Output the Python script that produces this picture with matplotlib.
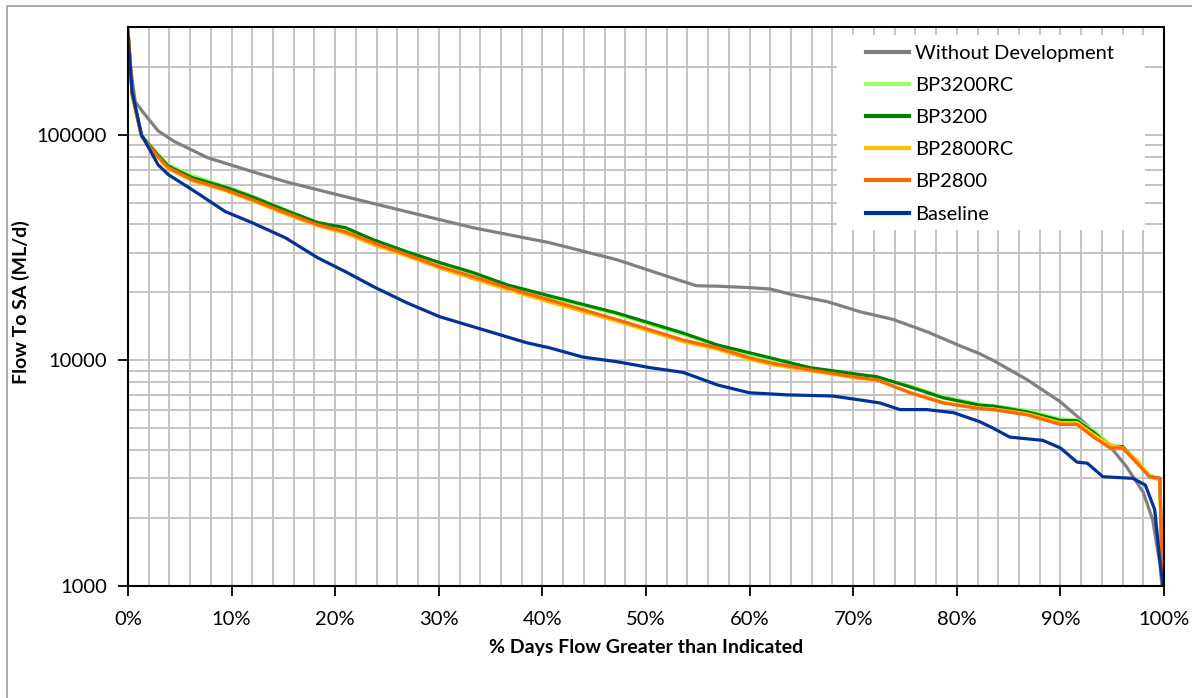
"""
Flow duration curves for flow to SA under each development scenario
"""

import numpy as np
import matplotlib
matplotlib.use('Agg')
import matplotlib.pyplot as plt
from matplotlib.ticker import FixedLocator, MultipleLocator, FuncFormatter
from matplotlib.patches import Rectangle

plt.rcParams['font.family'] = ['Lato', 'DejaVu Sans']

# % of days flow exceeded vs flow (ML/d), read per scenario
wd_pct = [0, 0.3, 0.7, 1.5, 2.9, 4.5, 7.7, 12, 15.2, 18.3, 21, 26.9, 33.3, 40.7, 47.2, 53, 54.9,
          57, 60, 62, 64.2, 67.5, 70.7, 73.8, 77.1, 80.3, 82.2, 83.5, 86.8, 90, 92.2, 94.8, 96.4,
          98, 98.9, 99.6, 99.8]
wd_flow = [283000, 190000, 140000, 125000, 104000, 93100, 79000, 68600, 61900, 57000, 53100, 45600,
           38700, 33200, 27900, 22800, 21400, 21300, 21000, 20700, 19500, 18200, 16400, 15200, 13400,
           11600, 10700, 10000, 8200, 6550, 5350, 4150, 3370, 2600, 1970, 1260, 1000]

sc_pct = [0, 0.4, 1.3, 2.9, 3.9, 6.2, 9.4, 12, 15.2, 18.3, 21, 23.7, 26.9, 30.1, 33.3, 36.6, 40.7,
          47.2, 53.6, 56.9, 60, 62, 65.8, 70.7, 72.3, 75.5, 78.7, 82.2, 83.5, 86.8, 90, 91.6, 93.2,
          94.8, 96, 97.4, 98.6, 99.6, 99.85]
bp3200rc_flow = [290000, 152000, 99500, 82000, 73500, 66000, 59000, 53500, 46500, 40800, 38500, 34000,
                 30200, 27000, 24300, 21500, 19000, 16000, 13000, 11600, 10600, 10100, 9300, 8600, 8400,
                 7700, 6900, 6400, 6300, 6000, 5500, 5450, 4900, 4250, 4100, 3600, 3100, 3000, 1000]
bp3200_flow = [290000, 152000, 99000, 81000, 72500, 64500, 58500, 53000, 46200, 40800, 38700, 34200,
               30300, 27100, 24500, 21600, 19300, 16200, 13200, 11700, 10800, 10260, 9280, 8640, 8460,
               7620, 6820, 6330, 6270, 5910, 5420, 5400, 4800, 4150, 4150, 3550, 3050, 3000, 1000]
bp2800rc_flow = [288000, 150000, 98000, 79000, 70500, 62500, 56500, 51000, 44500, 39500, 36500, 32500,
                 29000, 25600, 23000, 20600, 18100, 14900, 12100, 11200, 10100, 9600, 9000, 8300, 8200,
                 7200, 6500, 6150, 6100, 5800, 5300, 5300, 4700, 4200, 4100, 3600, 3050, 2950, 1000]
bp2800_flow = [290000, 150000, 98000, 80000, 71400, 63200, 57000, 51500, 45100, 39900, 37100, 33200,
               29400, 26000, 23500, 21000, 18500, 15160, 12300, 11360, 10260, 9760, 9080, 8370, 8190,
               7180, 6470, 6110, 6050, 5730, 5200, 5200, 4570, 4090, 4090, 3500, 3050, 3000, 1000]

base_pct = [0, 0.4, 1.3, 2.9, 3.9, 6.2, 9.4, 12, 15.2, 18.3, 21, 23.7, 26.9, 30.1, 33.3, 36.6, 38.5,
            40.7, 43.9, 47.2, 50.4, 53.6, 56.9, 58.1, 60, 62, 63.6, 68, 70.7, 72.6, 74.5, 77.1, 79.7,
            82.2, 83.5, 85.1, 88.3, 90, 91.6, 92.6, 94.1, 97, 98.2, 99.1, 99.6, 99.9]
base_flow = [275000, 155000, 100000, 73600, 66500, 57000, 45600, 40700, 34900, 28500, 24700, 21200,
             18000, 15600, 14100, 12700, 11960, 11360, 10340, 9860, 9280, 8840, 7780, 7540, 7180, 7100,
             7030, 6950, 6670, 6470, 6050, 6050, 5860, 5350, 5010, 4570, 4420, 4090, 3540, 3500, 3050,
             3000, 2800, 2180, 1300, 1000]

series = [
    ('Without Development', wd_pct, wd_flow, '#808080'),
    ('BP3200RC', sc_pct, bp3200rc_flow, '#99FF66'),
    ('BP3200', sc_pct, bp3200_flow, '#008000'),
    ('BP2800RC', sc_pct, bp2800rc_flow, '#FFC000'),
    ('BP2800', sc_pct, bp2800_flow, '#FF6600'),
    ('Baseline', base_pct, base_flow, '#003399'),
]

W, H = 1192, 698
fig = plt.figure(figsize=(W / 100, H / 100), dpi=100)

# outer chart border (only top/left edges fall inside the canvas)
fig.patches.append(Rectangle((6.5 / W, -0.1), 1.2, 1.1 - 6.5 / H, transform=fig.transFigure,
                             fill=False, edgecolor='#A6A6A6', linewidth=1.3))

ax = fig.add_axes([128 / W, 1 - 586 / H, (1164 - 128) / W, (586 - 27) / H])

for name, x, y, c in series:
    ax.plot(np.array(x) / 100, y, color=c, lw=2.3, label=name, solid_joinstyle='round')

ax.set_yscale('log')
ax.set_ylim(1000, 300000)
ax.set_xlim(0, 1)

ax.yaxis.set_major_locator(FixedLocator([1000, 10000, 100000]))
ax.yaxis.set_major_formatter(FuncFormatter(lambda v, p: f'{int(v)}'))
ax.yaxis.set_minor_locator(FixedLocator([m * 10 ** e for e in (3, 4, 5) for m in range(2, 10)]))
ax.yaxis.set_minor_formatter(FuncFormatter(lambda v, p: ''))
ax.xaxis.set_major_locator(MultipleLocator(0.1))
ax.xaxis.set_minor_locator(MultipleLocator(0.02))
ax.xaxis.set_major_formatter(FuncFormatter(lambda v, p: f'{v * 100:.0f}%'))

ax.grid(which='both', color='#BFBFBF', lw=1.3)
ax.set_axisbelow(True)
ax.tick_params(which='major', direction='out', length=7, width=1.3, labelsize=14.5)
ax.tick_params(axis='y', pad=8)
ax.tick_params(axis='x', pad=11)
ax.tick_params(which='minor', length=0)
for s in ax.spines.values():
    s.set_linewidth(1.5)
    s.set_color('black')

# axis titles placed in figure pixels
fig.text(646 / W, 1 - 648 / H, '% Days Flow Greater than Indicated', fontsize=14, fontweight='bold',
         ha='center', va='center')
fig.text(21 / W, 1 - 302 / H, 'Flow To SA (ML/d)', fontsize=14, fontweight='bold',
         ha='center', va='center', rotation=90)

# white legend area covering the grid
ax.add_patch(Rectangle((837 / W, 1 - 230 / H), (1145 - 837) / W, (230 - 35) / H,
                       transform=fig.transFigure, facecolor='white', edgecolor='none', zorder=1.5))
leg = ax.legend(loc='upper left', bbox_to_anchor=(866 / W, 1 - 45 / H), bbox_transform=fig.transFigure,
                fontsize=14.5, frameon=False, handlelength=2.15, handletextpad=0.3,
                labelspacing=0.745, borderpad=0, borderaxespad=0)
for ln in leg.get_lines():
    ln.set_linewidth(3)

fig.savefig('out.png', dpi=100)
